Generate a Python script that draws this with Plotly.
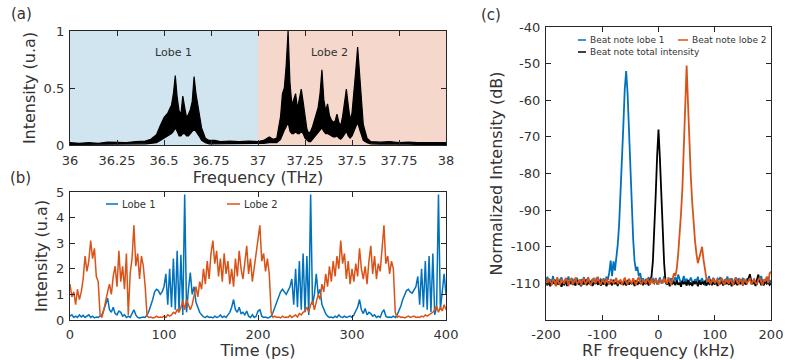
import plotly.graph_objects as go

# ---------------- data: (a) optical spectrum (envelope of the dense black trace) -------------
spec_freq = [36.00, 36.05, 36.10, 36.15, 36.20, 36.25, 36.30, 36.35, 36.40, 36.43,
             36.46, 36.48, 36.50, 36.52, 36.54, 36.55, 36.56, 36.57, 36.58, 36.59,
             36.60, 36.61, 36.62, 36.63, 36.64, 36.65, 36.66, 36.67, 36.68, 36.69,
             36.70, 36.72, 36.74, 36.77, 36.80, 36.85, 36.90, 36.95, 37.00, 37.03,
             37.06, 37.08, 37.10, 37.12, 37.13, 37.14, 37.15, 37.16, 37.17, 37.18,
             37.19, 37.20, 37.21, 37.22, 37.23, 37.24, 37.25, 37.26, 37.27, 37.28,
             37.29, 37.30, 37.31, 37.32, 37.33, 37.34, 37.35, 37.36, 37.37, 37.38,
             37.39, 37.40, 37.41, 37.42, 37.43, 37.44, 37.45, 37.46, 37.47, 37.48,
             37.49, 37.50, 37.51, 37.52, 37.53, 37.54, 37.55, 37.56, 37.58, 37.60,
             37.65, 37.70, 37.75, 37.80, 37.85, 37.90, 37.95, 38.00]
spec_upper = [0.02, 0.015, 0.02, 0.015, 0.025, 0.02, 0.02, 0.03, 0.035, 0.05,
              0.09, 0.17, 0.24, 0.28, 0.35, 0.45, 0.61, 0.42, 0.30, 0.27,
              0.43, 0.33, 0.24, 0.27, 0.31, 0.38, 0.60, 0.45, 0.33, 0.25,
              0.15, 0.06, 0.04, 0.04, 0.03, 0.035, 0.03, 0.035, 0.03, 0.04,
              0.07, 0.05, 0.06, 0.25, 0.45, 0.50, 0.70, 1.00, 0.55, 0.35,
              0.40, 0.45, 0.32, 0.40, 0.49, 0.38, 0.25, 0.14, 0.10, 0.12,
              0.16, 0.22, 0.28, 0.33, 0.45, 0.66, 0.40, 0.30, 0.36, 0.26,
              0.22, 0.20, 0.21, 0.27, 0.20, 0.17, 0.25, 0.35, 0.49, 0.35,
              0.22, 0.28, 0.45, 0.65, 0.86, 0.60, 0.38, 0.18, 0.06, 0.03,
              0.025, 0.03, 0.02, 0.025, 0.02, 0.02, 0.015, 0.02]
spec_lower = [0.005, 0.005, 0.005, 0.005, 0.005, 0.008, 0.008, 0.01, 0.01, 0.015,
              0.02, 0.04, 0.06, 0.08, 0.10, 0.12, 0.15, 0.12, 0.08, 0.08,
              0.10, 0.10, 0.08, 0.08, 0.10, 0.12, 0.14, 0.12, 0.10, 0.07,
              0.04, 0.02, 0.01, 0.01, 0.01, 0.01, 0.01, 0.01, 0.01, 0.015,
              0.02, 0.02, 0.02, 0.05, 0.10, 0.13, 0.16, 0.20, 0.12, 0.10,
              0.10, 0.12, 0.10, 0.10, 0.12, 0.10, 0.06, 0.04, 0.03, 0.03,
              0.05, 0.07, 0.08, 0.10, 0.13, 0.15, 0.12, 0.10, 0.10, 0.09,
              0.08, 0.07, 0.07, 0.08, 0.06, 0.05, 0.07, 0.09, 0.12, 0.08,
              0.06, 0.08, 0.12, 0.16, 0.20, 0.14, 0.08, 0.04, 0.02, 0.01,
              0.008, 0.01, 0.008, 0.008, 0.005, 0.005, 0.005, 0.005]
freq_ticks = [36, 36.25, 36.5, 36.75, 37, 37.25, 37.5, 37.75, 38]
freq_ticktext = ["36", "36.25", "36.5", "36.75", "37", "37.25", "37.5", "37.75", "38"]
# label, region start, region end, colour, label x, label y
lobe_regions = [("Lobe 1", 36, 37, "#d0e5f0", 36.55, 0.81),
                ("Lobe 2", 37, 38, "#f6d7cc", 37.38, 0.81)]

# ---------------- data: (b) time traces ----------------
time_ps = list(range(0, 401, 2))
lobe1_int = [0.15, 0.2, 0.1, 0.15, 0.1, 0.2, 0.12, 0.18, 0.1, 0.15,
             0.2, 0.1, 0.15, 0.08, 0.12, 0.1, 0.15, 0.2, 0.4, 0.6,
             0.85, 0.4, 0.3, 0.5, 0.25, 0.2, 0.35, 0.3, 0.15, 0.2,
             0.1, 0.15, 0.1, 0.25, 0.4, 0.2, 0.1, 0.08, 0.1, 0.12,
             0.1, 0.2, 0.35, 0.55, 0.8, 1.1, 1.2, 1.15, 1.0, 1.1,
             1.3, 1.8, 0.6, 2.0, 0.5, 2.4, 0.4, 2.7, 0.3, 2.55,
             0.2, 4.9, 0.3, 1.2, 1.85, 1.0, 1.3, 0.7, 0.5, 0.3,
             0.2, 0.12, 0.1, 0.15, 0.1, 0.12, 0.08, 0.15, 0.1, 0.12,
             0.2, 0.1, 0.15, 0.1, 0.2, 0.3, 0.5, 0.8, 0.4, 0.3,
             0.5, 0.25, 0.3, 0.2, 0.35, 0.15, 0.1, 0.2, 0.1, 0.15,
             0.35, 0.4, 0.15, 0.1, 0.12, 0.08, 0.1, 0.15, 0.3, 0.5,
             0.7, 0.9, 1.1, 1.2, 1.1, 1.0, 1.15, 1.3, 1.6, 0.6,
             2.0, 0.5, 2.3, 0.4, 2.6, 0.3, 2.5, 0.2, 4.9, 0.6,
             1.0, 1.8, 1.0, 1.2, 0.6, 0.4, 0.25, 0.15, 0.1, 0.12,
             0.08, 0.15, 0.1, 0.2, 0.12, 0.1, 0.15, 0.1, 0.12, 0.15,
             0.1, 0.2, 0.35, 0.5, 0.8, 0.4, 0.25, 0.45, 0.2, 0.3,
             0.25, 0.15, 0.2, 0.1, 0.15, 0.1, 0.3, 0.4, 0.15, 0.1,
             0.12, 0.1, 0.15, 0.1, 0.2, 0.35, 0.55, 0.8, 1.0, 1.15,
             1.2, 1.1, 1.05, 1.2, 1.3, 1.7, 0.6, 2.0, 0.5, 2.3,
             0.4, 2.5, 0.3, 2.6, 0.2, 0.5, 4.9, 0.4, 1.2, 1.8,
             1.0]
lobe2_int = [1.4, 0.9, 1.1, 0.6, 1.2, 0.8, 1.1, 1.6, 2.5, 1.9,
             2.3, 3.1, 2.4, 2.8, 1.7, 1.5, 0.2, 0.1, 0.4, 0.8,
             1.1, 1.4, 1.0, 1.7, 2.1, 1.3, 2.7, 1.5, 2.1, 1.2,
             2.6, 0.2, 1.8, 2.4, 3.7, 2.1, 2.6, 1.6, 2.5, 2.1,
             1.3, 0.15, 0.1, 0.12, 0.08, 0.1, 0.15, 0.1, 0.12, 0.1,
             0.15, 0.1, 0.2, 0.15, 0.2, 0.3, 0.25, 0.4, 0.3, 0.5,
             0.75, 0.4, 0.8, 0.6, 0.4, 0.6, 0.9, 1.3, 0.9, 1.5,
             1.2, 2.0, 1.4, 2.3, 1.6, 2.6, 3.1, 2.2, 2.7, 1.7,
             2.4, 1.5, 2.6, 1.8, 2.3, 1.4, 2.0, 1.3, 2.4, 1.7,
             2.7, 2.0, 1.6, 2.2, 2.9, 1.8, 2.4, 1.5, 2.1, 2.6,
             3.1, 3.7, 2.3, 2.6, 1.9, 2.4, 1.8, 0.3, 0.1, 0.15,
             0.1, 0.12, 0.08, 0.15, 0.1, 0.12, 0.1, 0.18, 0.1, 0.15,
             0.2, 0.12, 0.25, 0.2, 0.3, 0.35, 0.5, 0.3, 0.6, 0.75,
             0.4, 0.7, 1.0, 0.8, 1.4, 1.1, 1.8, 1.3, 2.1, 1.5,
             2.3, 1.7, 2.5, 2.0, 3.1, 2.2, 2.6, 1.6, 2.3, 1.4,
             2.0, 1.5, 2.2, 1.7, 2.8, 2.0, 1.6, 2.1, 1.4, 2.3,
             2.9, 1.8, 2.5, 1.6, 2.2, 1.9, 2.7, 3.7, 2.2, 2.5,
             1.8, 2.3, 2.0, 0.3, 0.1, 0.15, 0.1, 0.12, 0.08, 0.1,
             0.15, 0.1, 0.12, 0.15, 0.1, 0.12, 0.1, 0.15, 0.12, 0.2,
             0.15, 0.2, 0.25, 0.3, 0.4, 0.55, 0.3, 0.5, 0.35, 0.6,
             0.4]

# ---------------- data: (c) RF beat notes ----------------
rf_khz = [-200 + 2.5 * i for i in range(161)]
beat_lobe1 = [-109.5, -108.2, -110.3, -108.9, -109.8, -108.0, -110.1, -109.2, -108.6, -110.4,
              -109.0, -108.4, -109.9, -110.6, -108.8, -109.3, -108.1, -110.0, -109.6, -108.7,
              -110.2, -109.1, -108.5, -109.7, -110.5, -108.9, -109.4, -108.3, -110.1, -109.0,
              -108.6, -109.8, -110.3, -108.8, -109.2, -110.0, -108.4, -109.5, -110.2, -108.9,
              -109.3, -108.7, -110.1, -108.2, -109.0, -107.0, -103.8, -108.0, -104.0, -106.5,
              -103.5, -99.5, -94.0, -86.0, -77.0, -67.0, -57.0, -52.0, -58.0, -69.0,
              -80.0, -90.0, -98.0, -104.0, -106.5, -105.5, -108.0, -107.2, -109.5, -108.6,
              -110.0, -108.8, -109.4, -108.3, -110.2, -109.1, -108.7, -109.9, -108.5, -110.3,
              -109.2, -108.4, -110.0, -109.6, -108.1, -109.8, -110.4, -108.9, -109.3, -108.6,
              -110.1, -109.0, -108.3, -109.7, -107.6, -108.8, -110.2, -109.4, -108.0, -109.9,
              -108.7, -110.3, -109.1, -108.4, -109.6, -110.0, -108.9, -109.5, -108.2, -110.1,
              -109.3, -108.6, -109.9, -110.5, -108.8, -109.2, -108.0, -110.2, -109.7, -108.5,
              -109.4, -110.1, -108.7, -109.0, -108.3, -109.8, -110.4, -108.9, -109.5, -108.1,
              -110.0, -109.2, -108.6, -109.7, -110.3, -108.4, -109.1, -108.8, -110.2, -109.6,
              -108.5, -109.9, -110.1, -108.7, -109.3, -108.2, -110.0, -109.4, -108.9, -109.8,
              -110.4, -108.6, -109.2, -108.0, -109.7, -110.2, -108.8, -109.5, -108.3, -110.0,
              -109.1]
beat_total = [-109.8, -110.5, -109.2, -110.8, -109.6, -110.1, -109.0, -110.6, -109.7, -110.3,
              -109.4, -110.9, -109.9, -110.2, -109.1, -110.7, -109.5, -110.0, -109.3, -110.4,
              -109.8, -110.6, -109.2, -110.1, -109.7, -110.8, -109.4, -110.3, -109.0, -110.5,
              -109.6, -110.2, -109.3, -110.7, -109.9, -110.0, -109.5, -110.4, -109.1, -110.6,
              -109.7, -110.3, -109.2, -110.8, -109.5, -110.1, -109.8, -110.5, -109.0, -110.2,
              -109.6, -110.7, -109.3, -110.0, -109.9, -110.4, -109.4, -110.6, -109.1, -110.3,
              -109.8, -110.1, -109.5, -110.7, -109.2, -110.4, -109.7, -110.0, -109.3, -110.5,
              -109.6, -110.2, -109.4, -110.6, -109.0, -108.2, -104.0, -96.0, -86.0, -75.5,
              -68.0, -76.0, -87.0, -97.0, -104.5, -109.5, -110.3, -109.6, -110.8, -109.4,
              -110.1, -109.7, -110.5, -109.2, -110.4, -109.8, -110.9, -109.3, -110.2, -109.6,
              -110.6, -109.1, -110.3, -109.9, -110.7, -109.4, -110.0, -109.5, -110.8, -109.2,
              -110.4, -109.7, -110.1, -109.3, -110.6, -109.8, -110.2, -109.0, -110.5, -109.6,
              -110.3, -109.4, -110.7, -109.9, -110.0, -109.2, -110.6, -109.5, -110.1, -109.8,
              -110.4, -109.1, -110.8, -109.6, -110.2, -109.3, -110.5, -109.7, -110.0, -109.4,
              -110.6, -109.2, -110.3, -109.8, -108.6, -107.5, -109.6, -110.2, -109.4, -110.7,
              -109.0, -107.6, -109.5, -110.3, -109.8, -110.5, -109.2, -110.1, -109.7, -110.4,
              -109.9]
beat_lobe2 = [-109.0, -110.2, -108.6, -109.7, -110.5, -108.9, -109.4, -110.8, -108.3, -109.9,
              -110.4, -108.8, -109.6, -110.1, -108.5, -109.3, -110.7, -109.0, -108.7, -110.3,
              -109.5, -108.4, -110.0, -109.8, -108.9, -110.6, -109.2, -108.6, -110.2, -109.7,
              -108.3, -109.9, -110.5, -109.1, -108.7, -110.0, -109.4, -108.2, -109.8, -110.4,
              -108.9, -109.3, -110.1, -108.6, -109.7, -110.3, -108.8, -109.5, -110.0, -109.2,
              -108.5, -110.2, -109.6, -108.9, -110.4, -109.1, -108.4, -109.8, -110.3, -108.7,
              -109.4, -110.1, -108.6, -109.9, -110.5, -109.0, -108.3, -109.7, -110.2, -108.9,
              -109.5, -110.0, -108.7, -109.2, -110.4, -108.5, -109.8, -110.1, -108.8, -109.6,
              -110.3, -108.9, -109.4, -110.0, -108.6, -109.7, -110.2, -108.4, -109.1, -110.5,
              -108.8, -107.2, -108.0, -106.0, -102.0, -97.0, -91.0, -84.0, -74.0, -61.0,
              -50.5, -61.0, -73.0, -81.0, -88.0, -94.0, -98.5, -102.0, -104.5, -103.0,
              -101.0, -100.0, -103.5, -106.5, -108.5, -109.6, -108.7, -110.2, -109.3, -108.6,
              -110.0, -109.5, -108.8, -110.4, -109.1, -108.5, -109.9, -110.3, -108.7, -109.4,
              -110.1, -108.6, -109.7, -110.5, -109.0, -108.4, -109.8, -110.2, -108.9, -109.3,
              -110.6, -108.7, -109.5, -110.0, -109.2, -108.5, -110.3, -109.6, -108.8, -109.9,
              -110.2, -109.0, -108.4, -109.7, -110.5, -108.9, -109.3, -108.1, -110.0, -107.3,
              -106.8]

BLUE = "#0072BD"
ORANGE = "#D95319"
AX = "#262626"
TXT = "#333333"
FONT = "DejaVu Sans"
W, H = 785, 360


def px(x):
    return x / W


def py(y):
    return 1 - y / H


fig = go.Figure()

# (a)
fig.add_trace(go.Scatter(x=spec_freq, y=spec_lower, mode="lines", line=dict(color="black", width=1.2),
                         xaxis="x", yaxis="y", showlegend=False, hoverinfo="skip"))
fig.add_trace(go.Scatter(x=spec_freq, y=spec_upper, mode="lines", line=dict(color="black", width=1.2),
                         fill="tonexty", fillcolor="black", xaxis="x", yaxis="y",
                         name="Spectrum", showlegend=False))
# (b)
fig.add_trace(go.Scatter(x=time_ps, y=lobe1_int, mode="lines", line=dict(color=BLUE, width=1.5),
                         xaxis="x2", yaxis="y2", name="Lobe 1", showlegend=False))
fig.add_trace(go.Scatter(x=time_ps, y=lobe2_int, mode="lines", line=dict(color=ORANGE, width=1.5),
                         xaxis="x2", yaxis="y2", name="Lobe 2", showlegend=False))
# (c)
fig.add_trace(go.Scatter(x=rf_khz, y=beat_lobe1, mode="lines", line=dict(color=BLUE, width=1.8),
                         xaxis="x3", yaxis="y3", name="Beat note lobe 1", showlegend=False))
fig.add_trace(go.Scatter(x=rf_khz, y=beat_total, mode="lines", line=dict(color="black", width=1.8),
                         xaxis="x3", yaxis="y3", name="Beat note total intensity", showlegend=False))
fig.add_trace(go.Scatter(x=rf_khz, y=beat_lobe2, mode="lines", line=dict(color=ORANGE, width=1.8),
                         xaxis="x3", yaxis="y3", name="Beat note lobe 2", showlegend=False))

shapes = []
annotations = []
for label, x0, x1, col, lx, ly in lobe_regions:
    shapes.append(dict(type="rect", xref="x", yref="y domain", x0=x0, x1=x1, y0=0, y1=1,
                       fillcolor=col, line_width=0, layer="below"))
    annotations.append(dict(x=lx, y=ly, xref="x", yref="y", text=label, showarrow=False,
                            font=dict(size=11, color=TXT, family=FONT)))


# manual legends (short line samples like the original)
def leg(xl, xr, y, color, text, size):
    shapes.append(dict(type="line", xref="paper", yref="paper", x0=px(xl), x1=px(xr),
                       y0=py(y), y1=py(y), line=dict(color=color, width=1.5)))
    annotations.append(dict(x=px(xr + 2), y=py(y), xref="paper", yref="paper", text=text,
                            showarrow=False, xanchor="left", yanchor="middle",
                            font=dict(size=size, color=TXT, family=FONT)))


leg(106, 118, 204, BLUE, "Lobe 1", 10)
leg(227, 240, 204, ORANGE, "Lobe 2", 10)
leg(578, 586, 40, BLUE, "Beat note lobe 1", 9)
leg(678, 688, 40, ORANGE, "Beat note lobe 2", 9)
leg(578, 586, 52, "black", "Beat note total intensity", 9)

for lab, x, y in [("(a)", 21, 14), ("(b)", 20, 178), ("(c)", 491, 15)]:
    annotations.append(dict(x=px(x), y=py(y), xref="paper", yref="paper", text=lab, showarrow=False,
                            xanchor="center", yanchor="middle", font=dict(size=15, color=TXT, family=FONT)))

axis_common = dict(showline=True, linecolor=AX, linewidth=1.2, mirror="ticks", ticks="inside",
                   ticklen=5, tickcolor=AX, showgrid=False, zeroline=False, automargin=False,
                   tickfont=dict(size=13, color=TXT, family=FONT),
                   title_font=dict(size=16, color=TXT, family=FONT))

xa_dom = [px(70), px(446)]
fig.update_layout(
    width=W, height=H, margin=dict(l=0, r=0, t=0, b=0, autoexpand=False),
    paper_bgcolor="white", plot_bgcolor="white",
    font=dict(family=FONT, color=TXT),
    shapes=shapes, annotations=annotations,
    xaxis=dict(domain=xa_dom, anchor="y", range=[36, 38], tickvals=freq_ticks, ticktext=freq_ticktext,
               ticklabelstandoff=3, title=dict(text="Frequency (THz)", standoff=0), **axis_common),
    yaxis=dict(domain=[py(145), py(31)], anchor="x", range=[0, 1], tickvals=[0, 0.5, 1],
               ticktext=["0", "0.5", "1"], ticklabelstandoff=2,
               title=dict(text="Intensity (u.a)", standoff=4), **axis_common),
    xaxis2=dict(domain=xa_dom, anchor="y2", range=[0, 400], tickvals=[0, 100, 200, 300, 400],
                ticklabelstandoff=2, title=dict(text="Time (ps)", standoff=0), **axis_common),
    yaxis2=dict(domain=[py(320), py(192)], anchor="x2", range=[0, 5], tickvals=[0, 1, 2, 3, 4, 5],
                ticklabelstandoff=2, title=dict(text="Intensity (u.a)", standoff=4), **axis_common),
    xaxis3=dict(domain=[px(546), px(771)], anchor="y3", range=[-200, 200],
                tickvals=[-200, -100, 0, 100, 200], ticktext=["-200", "-100", "0", "100", "200"],
                ticklabeloverflow="allow", ticklabelstandoff=2,
                title=dict(text="RF frequency (kHz)", standoff=0), **axis_common),
    yaxis3=dict(domain=[py(320), py(27)], anchor="x3", range=[-120, -40],
                tickvals=[-120, -110, -100, -90, -80, -70, -60, -50, -40],
                ticktext=["", "-110", "-100", "-90", "-80", "-70", "-60", "-50", "-40"],
                ticklabelstandoff=2, title=dict(text="Normalized Intensity (dB)", standoff=4),
                **axis_common),
)

fig.write_html("out.html")
